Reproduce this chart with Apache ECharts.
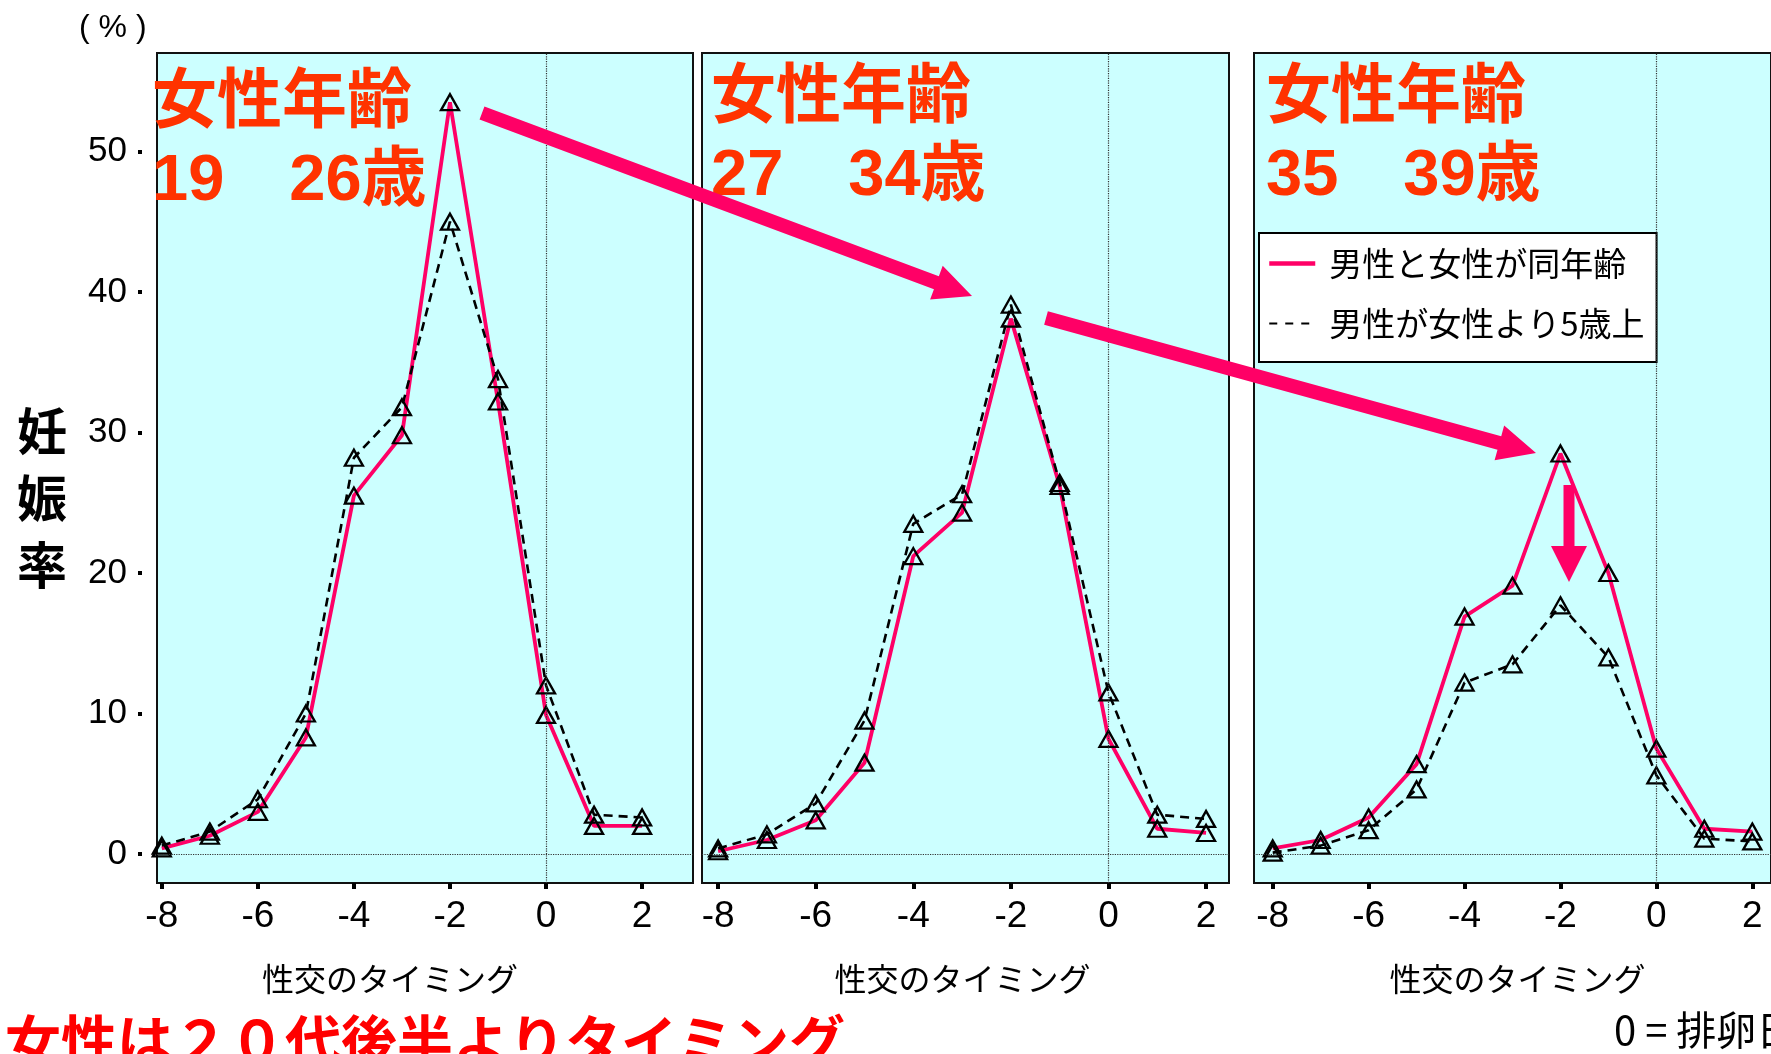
<!DOCTYPE html>
<html><head><meta charset="utf-8">
<script src="https://cdn.jsdelivr.net/npm/echarts@6/dist/echarts.min.js"></script>
<style>html,body{margin:0;padding:0;background:#fff}#c{width:1771px;height:1054px}</style>
</head><body><div id="c"></div>
<script>
// ---- data ----
const xValues = [-8, -7, -6, -5, -4, -3, -2, -1, 0, 1, 2];
const xTickLabels = [-8, -6, -4, -2, 0, 2];
const yTickLabels = [0, 10, 20, 30, 40, 50];
const seriesNames = ['男性と女性が同年齢', '男性が女性より5歳上'];
const panelTitles = ['女性年齢\n19　26歳', '女性年齢\n27　34歳', '女性年齢\n35　39歳'];
const xAxisName = '性交のタイミング';
const yAxisName = '妊\n娠\n率';
const yUnit = '( % )';
const footNote = '0 = 排卵日';
const message = '女性は２０代後半よりタイミング';

const sameAge_19_26 = [0.4, 1.3, 3.0, 8.3, 25.5, 29.8, 53.5, 32.2, 9.9, 2.0, 2.0];
const older_19_26   = [0.6, 1.6, 3.9, 10.0, 28.2, 31.8, 45.0, 33.8, 12.0, 2.8, 2.6];
const sameAge_27_34 = [0.2, 1.0, 2.4, 6.5, 21.2, 24.3, 38.1, 26.2, 8.2, 1.8, 1.5];
const older_27_34   = [0.4, 1.4, 3.6, 9.5, 23.5, 25.6, 39.1, 26.4, 11.5, 2.8, 2.5];
const sameAge_35_39 = [0.4, 1.0, 2.6, 6.4, 16.9, 19.1, 28.5, 20.0, 7.5, 1.8, 1.6];
const older_35_39   = [0.1, 0.6, 1.7, 4.6, 12.2, 13.5, 17.7, 14.0, 5.6, 1.1, 0.9];

const panelSame = [sameAge_19_26, sameAge_27_34, sameAge_35_39];
const panelOlder = [older_19_26, older_27_34, older_35_39];

// ---- layout / style ----
const PINK = '#ff0066';
const TITLE_RED = '#ff3300';
const LATIN = "'Liberation Sans', Arial, 'Noto Sans CJK JP', sans-serif";
const CJK = "'Noto Sans CJK JP', 'Liberation Sans', sans-serif";
const grids = [
  {left: 157, top: 53, width: 536, height: 830},
  {left: 702, top: 53, width: 527, height: 830},
  {left: 1254, top: 53, width: 527, height: 830}
];
const xRanges = [[-8.1, 3.06], [-8.33, 2.47], [-8.39, 2.39]];
const titlePos = [[152, 65], [711, 60], [1266, 60]];
const namePad = [[0, 70, 0, 0], [0, 6, 0, 0], [0, 0, 0, 10]];

const xAxes = grids.map((g, i) => ({
  gridIndex: i, type: 'value', min: xRanges[i][0], max: xRanges[i][1],
  axisLine: {show: false, onZero: false}, splitLine: {show: false},
  axisTick: {show: true, customValues: xTickLabels, length: 6, lineStyle: {width: 4, color: '#000'}},
  axisLabel: {customValues: xTickLabels, margin: 15, fontSize: 37, color: '#000', fontFamily: LATIN},
  name: xAxisName, nameLocation: 'middle', nameGap: 80,
  nameTextStyle: {fontSize: 32, color: '#000', fontFamily: CJK, padding: namePad[i]}
}));
const yAxes = grids.map((g, i) => ({
  gridIndex: i, type: 'value', min: -2.06, max: 57.0, show: i === 0, offset: 15,
  axisLine: {show: false, onZero: false}, splitLine: {show: false},
  axisTick: {show: true, customValues: yTickLabels, length: 4, lineStyle: {width: 4, color: '#000'}},
  axisLabel: {customValues: yTickLabels, margin: 15, fontSize: 35, color: '#000', fontFamily: LATIN}
}));

const series = [];
grids.forEach((g, i) => {
  series.push({
    type: 'line', name: seriesNames[0], xAxisIndex: i, yAxisIndex: i,
    data: xValues.map((x, k) => [x, panelSame[i][k]]),
    symbol: 'triangle', symbolSize: [18, 16], showAllSymbol: true,
    itemStyle: {color: 'rgba(0,0,0,0)', borderColor: '#000', borderWidth: 2.3},
    lineStyle: {color: PINK, width: 3.8}, z: 3,
    markLine: {
      silent: true, symbol: 'none', animation: false, label: {show: false},
      lineStyle: {type: 'dotted', color: '#333', width: 1.2},
      data: [{xAxis: 0}, {yAxis: 0}]
    }
  });
  series.push({
    type: 'line', name: seriesNames[1], xAxisIndex: i, yAxisIndex: i,
    data: xValues.map((x, k) => [x, panelOlder[i][k]]),
    symbol: 'triangle', symbolSize: [18, 16], showAllSymbol: true,
    itemStyle: {color: 'rgba(0,0,0,0)', borderColor: '#000', borderWidth: 2.3},
    lineStyle: {color: '#000', width: 2.6, type: [9, 6]}, z: 4
  });
});

const titles = panelTitles.map((t, i) => ({
  text: t, left: titlePos[i][0], top: titlePos[i][1], padding: 0,
  textStyle: {fontSize: 65, fontWeight: 'bold', lineHeight: 78, color: TITLE_RED, fontFamily: LATIN}
}));
titles.push({text: yAxisName, left: 17, top: 397, padding: 0,
  textStyle: {fontSize: 50, fontWeight: 'bold', lineHeight: 67, color: '#000', fontFamily: CJK}});
titles.push({text: yUnit, left: 79, top: 12, padding: 0,
  textStyle: {fontSize: 32, fontWeight: 'normal', color: '#000', fontFamily: LATIN}});

function arrowPoints(x1, y1, x2, y2, shaft, headLen, headW) {
  const dx = x2 - x1, dy = y2 - y1, L = Math.hypot(dx, dy);
  const ux = dx / L, uy = dy / L, px = -uy, py = ux;
  const bx = x2 - ux * headLen, by = y2 - uy * headLen;
  return [
    [x1 + px * shaft / 2, y1 + py * shaft / 2],
    [bx + px * shaft / 2, by + py * shaft / 2],
    [bx + px * headW / 2, by + py * headW / 2],
    [x2, y2],
    [bx - px * headW / 2, by - py * headW / 2],
    [bx - px * shaft / 2, by - py * shaft / 2],
    [x1 - px * shaft / 2, y1 - py * shaft / 2]
  ];
}
const arrows = [
  [482, 113, 972, 296, 14, 38, 36],
  [1046, 318, 1536, 453, 14, 38, 36],
  [1569, 485, 1569, 582, 11, 36, 36]
];

const graphic = arrows.map(a => ({
  type: 'polygon', z: 100, silent: true,
  shape: {points: arrowPoints(...a)},
  style: {fill: PINK}
}));
graphic.push({type: 'text', left: 5, top: 1013, z: 100, silent: true,
  style: {text: message, font: 'bold 56px "Noto Sans CJK JP"', fill: '#ff0000'}});
graphic.push({type: 'text', left: 1614, top: 1010, z: 100, silent: true,
  style: {text: footNote, font: '40px "Noto Sans CJK JP"', fill: '#000'}});

const chart = echarts.init(document.getElementById('c'), null, {renderer: 'canvas'});
chart.setOption({
  animation: false,
  backgroundColor: '#fff',
  title: titles,
  grid: grids.map(g => Object.assign({show: true, backgroundColor: '#ccffff', borderColor: '#111', borderWidth: 2}, g)),
  xAxis: xAxes,
  yAxis: yAxes,
  legend: {
    data: [
      {name: seriesNames[0], lineStyle: {width: 4.5}},
      {name: seriesNames[1], lineStyle: {width: 2, type: [8, 8]}}
    ],
    orient: 'vertical', left: 1259, top: 233,
    padding: [14, 12, 22, 8], itemGap: 27, itemWidth: 46, itemHeight: 14,
    backgroundColor: '#fff', borderColor: '#000', borderWidth: 2, borderRadius: 0,
    selectedMode: false, itemStyle: {opacity: 0},
    textStyle: {fontSize: 33, fontFamily: CJK, color: '#000', padding: [0, 0, 0, 9]}
  },
  series: series,
  graphic: graphic
});
</script></body></html>
